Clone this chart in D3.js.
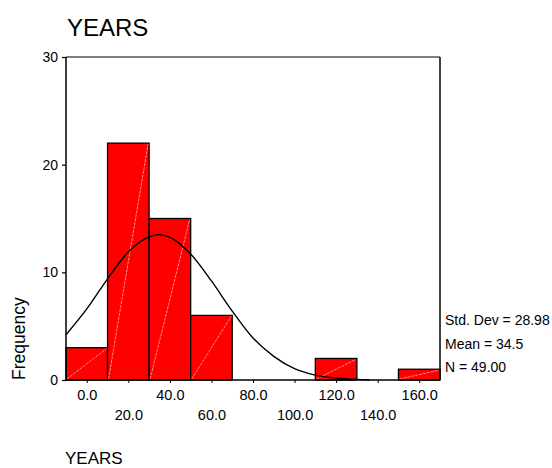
<!DOCTYPE html>
<html>
<head>
<meta charset="utf-8">
<script src="https://cdn.jsdelivr.net/npm/d3@7"></script>
<style>
  html, body { margin: 0; padding: 0; background: #fff; }
  svg { display: block; font-family: "Liberation Sans", Arial, sans-serif; }
</style>
</head>
<body>
<svg id="chart" width="552" height="468"></svg>
<script>
// ---- data ----
const titleText = "YEARS";
const xLabel = "YEARS";
const yLabel = "Frequency";
const binStarts = [-10, 10, 30, 50, 70, 90, 110, 130, 150];
const binWidth = 20;
const counts = [3, 22, 15, 6, 0, 0, 2, 0, 1];
const xTicks = [0, 20, 40, 60, 80, 100, 120, 140, 160];
const yTicks = [0, 10, 20, 30];
const curveX = [-10, 0, 10, 20, 30, 34.5, 40, 50, 60, 70, 80, 90, 100, 110, 120, 130, 136];
const curveY = [4.2, 6.6, 9.4, 11.9, 13.3, 13.5, 13.25, 11.7, 9.2, 6.4, 3.9, 2.2, 1.05, 0.45, 0.17, 0.06, 0.03];
const statsLines = ["Std. Dev = 28.98", "Mean = 34.5", "N = 49.00"];

// ---- layout ----
const svg = d3.select("#chart");
const L = 66, R = 440, T = 57, B = 380;
const x = d3.scaleLinear().domain([-10, 170]).range([L, R]);
const y = d3.scaleLinear().domain([0, 30]).range([B, T]);

// title
svg.append("text").attr("x", 67).attr("y", 36)
  .attr("font-size", 24).attr("fill", "#000").text(titleText);

// bars
const bars = binStarts.map((s, i) => ({ s, c: counts[i] })).filter(d => d.c > 0);
svg.append("g").selectAll("rect").data(bars).join("rect")
  .attr("x", d => x(d.s))
  .attr("y", d => y(d.c))
  .attr("width", d => x(d.s + binWidth) - x(d.s))
  .attr("height", d => y(0) - y(d.c))
  .attr("fill", "#ff0000")
  .attr("stroke", "#000")
  .attr("stroke-width", 1.3);

// faint diagonal lines inside bars
svg.append("g").selectAll("line").data(bars).join("line")
  .attr("x1", d => x(d.s) + 1)
  .attr("y1", d => y(0) - 1)
  .attr("x2", d => x(d.s + binWidth) - 1)
  .attr("y2", d => y(d.c) + 1)
  .attr("stroke", "#ffb0b0")
  .attr("stroke-width", 0.8)
  .attr("stroke-dasharray", "3,1");

// frame: top and right
svg.append("line").attr("x1", L).attr("x2", R).attr("y1", T).attr("y2", T)
  .attr("stroke", "#555").attr("stroke-width", 1.5);
svg.append("line").attr("x1", R).attr("x2", R).attr("y1", T).attr("y2", B)
  .attr("stroke", "#000").attr("stroke-width", 1.5);

// normal curve
const pts = curveX.map((v, i) => [v, curveY[i]]);
svg.append("path").datum(pts)
  .attr("d", d3.line().x(d => x(d[0])).y(d => y(d[1])).curve(d3.curveMonotoneX))
  .attr("fill", "none").attr("stroke", "#000").attr("stroke-width", 1.4);

// y axis
const yAxis = svg.append("g").attr("transform", `translate(${L},0)`)
  .call(d3.axisLeft(y).tickValues(yTicks).tickSize(4).tickPadding(4).tickFormat(d3.format("d")));
yAxis.select(".domain").attr("stroke", "#000").attr("stroke-width", 1.5).attr("d", `M0,${T}V${B}`);
yAxis.selectAll(".tick line").attr("stroke", "#000").attr("stroke-width", 1.2);
yAxis.selectAll(".tick text").attr("font-size", 14).attr("fill", "#000")
  .attr("font-family", "'Liberation Sans', Arial, sans-serif");

// x axis
const xAxis = svg.append("g").attr("transform", `translate(0,${B})`)
  .call(d3.axisBottom(x).tickValues(xTicks).tickSize(3).tickFormat(d3.format(".1f")));
xAxis.select(".domain").attr("stroke", "#000").attr("stroke-width", 1.5).attr("d", `M${L},0H${R}`);
xAxis.selectAll(".tick line").attr("stroke", "#000").attr("stroke-width", 1);
xAxis.selectAll(".tick text")
  .attr("font-size", 14.5).attr("fill", "#000")
  .attr("font-family", "'Liberation Sans', Arial, sans-serif")
  .attr("dy", null)
  .attr("y", (d, i) => i % 2 === 0 ? 20 : 40);

// y label
svg.append("text")
  .attr("transform", "translate(25,380) rotate(-90)")
  .attr("font-size", 17.5).attr("fill", "#000").text(yLabel);

// x label
svg.append("text").attr("x", 65).attr("y", 463.5)
  .attr("font-size", 17).attr("fill", "#000").text(xLabel);

// stats
svg.append("g").selectAll("text").data(statsLines).join("text")
  .attr("x", 445)
  .attr("y", (d, i) => 325 + i * 23.5)
  .attr("font-size", 14).attr("fill", "#000")
  .text(d => d);
</script>
</body>
</html>
